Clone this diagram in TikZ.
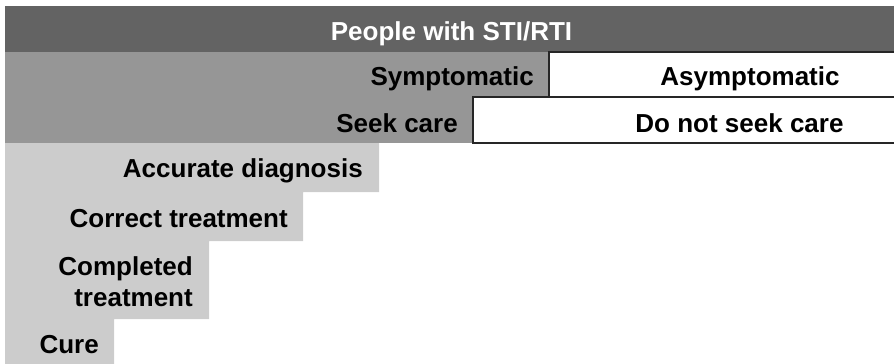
\documentclass[tikz,border=0pt]{standalone}
\usepackage{fontspec}
\setmainfont{Liberation Sans}
\begin{document}
\begin{tikzpicture}[x=1pt,y=-1pt,
  lbl/.style={inner sep=0pt, font=\fontsize{26}{31}\selectfont\bfseries},
  whitebox/.style={fill=white, draw=black!85, line width=1.2pt}]
\useasboundingbox (0,0) rectangle (894,364);
\definecolor{bardark}{gray}{0.39}
\definecolor{barmid}{gray}{0.59}
\definecolor{barlight}{gray}{0.80}
% header bar and the symptomatic band
\fill[bardark] (5,6) rectangle (894,52);
\fill[barmid] (5,52) rectangle (894,143);
% white boxes for the branches that drop out
\draw[whitebox] (549,52) rectangle (900,97);
\draw[whitebox] (473,97) rectangle (900,143);
% staircase of the care cascade
\fill[barlight] (5,143) -- (379,143) -- (379,192) -- (303,192) -- (303,241)
  -- (209,241) -- (209,319) -- (114,319) -- (114,364) -- (5,364) -- cycle;
% labels
\node[lbl, text=white, anchor=base] (people) at (451.5,40) {People with STI/RTI};
\node[lbl, anchor=base east] (sym) at (534,85) {Symptomatic};
\node[lbl, anchor=base] (asym) at (750,85) {Asymptomatic};
\node[lbl, anchor=base east] (seek) at (458,132) {Seek care};
\node[lbl, anchor=base] (noseek) at (739.5,132) {Do not seek care};
\node[lbl, anchor=base east] (diag) at (363,177) {Accurate diagnosis};
\node[lbl, anchor=base east] (treat) at (288,227) {Correct treatment};
\node[lbl, anchor=east, align=right] (compl) at (193,282) {Completed\\treatment};
\node[lbl, anchor=base east] (cure) at (99,353) {Cure};
\end{tikzpicture}
\end{document}
